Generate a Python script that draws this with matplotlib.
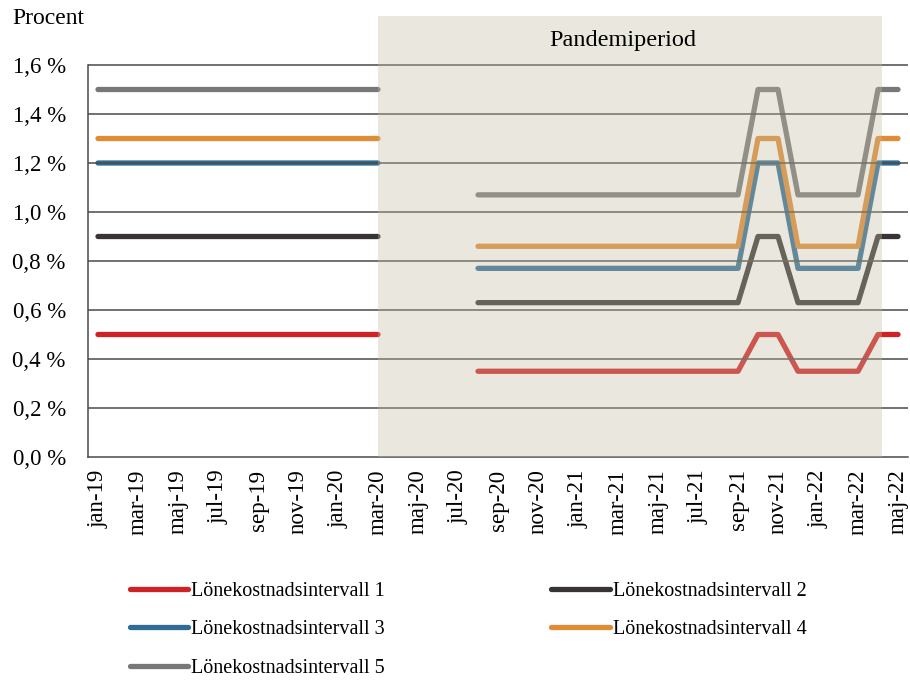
import numpy as np
import matplotlib
matplotlib.use("Agg")
from matplotlib import pyplot as plt

plt.rcParams['font.family'] = ['Liberation Serif', 'DejaVu Serif']

# months jan-19 .. maj-22
months = ['jan-19', 'feb-19', 'mar-19', 'apr-19', 'maj-19', 'jun-19', 'jul-19', 'aug-19',
          'sep-19', 'okt-19', 'nov-19', 'dec-19', 'jan-20', 'feb-20', 'mar-20', 'apr-20',
          'maj-20', 'jun-20', 'jul-20', 'aug-20', 'sep-20', 'okt-20', 'nov-20', 'dec-20',
          'jan-21', 'feb-21', 'mar-21', 'apr-21', 'maj-21', 'jun-21', 'jul-21', 'aug-21',
          'sep-21', 'okt-21', 'nov-21', 'dec-21', 'jan-22', 'feb-22', 'mar-22', 'apr-22',
          'maj-22']
n = np.nan

intervall1 = [0.5, 0.5, 0.5, 0.5, 0.5, 0.5, 0.5, 0.5, 0.5, 0.5, 0.5, 0.5, 0.5, 0.5, 0.5,
              n, n, n, n,
              0.35, 0.35, 0.35, 0.35, 0.35, 0.35, 0.35, 0.35, 0.35, 0.35, 0.35, 0.35, 0.35,
              0.35, 0.5, 0.5, 0.35, 0.35, 0.35, 0.35, 0.5, 0.5]
intervall2 = [0.9, 0.9, 0.9, 0.9, 0.9, 0.9, 0.9, 0.9, 0.9, 0.9, 0.9, 0.9, 0.9, 0.9, 0.9,
              n, n, n, n,
              0.63, 0.63, 0.63, 0.63, 0.63, 0.63, 0.63, 0.63, 0.63, 0.63, 0.63, 0.63, 0.63,
              0.63, 0.9, 0.9, 0.63, 0.63, 0.63, 0.63, 0.9, 0.9]
intervall3 = [1.2, 1.2, 1.2, 1.2, 1.2, 1.2, 1.2, 1.2, 1.2, 1.2, 1.2, 1.2, 1.2, 1.2, 1.2,
              n, n, n, n,
              0.77, 0.77, 0.77, 0.77, 0.77, 0.77, 0.77, 0.77, 0.77, 0.77, 0.77, 0.77, 0.77,
              0.77, 1.2, 1.2, 0.77, 0.77, 0.77, 0.77, 1.2, 1.2]
intervall4 = [1.3, 1.3, 1.3, 1.3, 1.3, 1.3, 1.3, 1.3, 1.3, 1.3, 1.3, 1.3, 1.3, 1.3, 1.3,
              n, n, n, n,
              0.86, 0.86, 0.86, 0.86, 0.86, 0.86, 0.86, 0.86, 0.86, 0.86, 0.86, 0.86, 0.86,
              0.86, 1.3, 1.3, 0.86, 0.86, 0.86, 0.86, 1.3, 1.3]
intervall5 = [1.5, 1.5, 1.5, 1.5, 1.5, 1.5, 1.5, 1.5, 1.5, 1.5, 1.5, 1.5, 1.5, 1.5, 1.5,
              n, n, n, n,
              1.07, 1.07, 1.07, 1.07, 1.07, 1.07, 1.07, 1.07, 1.07, 1.07, 1.07, 1.07, 1.07,
              1.07, 1.5, 1.5, 1.07, 1.07, 1.07, 1.07, 1.5, 1.5]

series = [intervall1, intervall2, intervall3, intervall4, intervall5]
labels = ['Lönekostnadsintervall 1', 'Lönekostnadsintervall 2', 'Lönekostnadsintervall 3',
          'Lönekostnadsintervall 4', 'Lönekostnadsintervall 5']
colors = ['#d02124', '#383335', '#2f6d96', '#e08b35', '#787878']

pandemic_start, pandemic_end = 'mar-20', 'apr-22'
yticks = [0.0, 0.2, 0.4, 0.6, 0.8, 1.0, 1.2, 1.4, 1.6]

fig = plt.figure(figsize=(9.1, 6.8), dpi=100)
ax = fig.add_axes([88 / 910, 1 - 457 / 680, 820 / 910, 441 / 680])

x = np.arange(len(months))
lines = []
for vals, lab, col in zip(series, labels, colors):
    ln, = ax.plot(x, vals, color=col, lw=3.8, label=lab, solid_capstyle='round',
                  solid_joinstyle='round', zorder=2)
    lines.append(ln)

# gridlines drawn over the lines
for yv in yticks[1:]:
    ax.axhline(yv, color='#4a4a4a', lw=1.1, zorder=2.6)

# pandemic shading, drawn on top (blends lines and grid)
i0 = months.index(pandemic_start)
i1 = months.index(pandemic_end)
ax.axvspan(i0, i1 + 0.2, color='#c3bda1', alpha=0.35, lw=0, zorder=3)
ax.text(26.25, 1.7, 'Pandemiperiod', ha='center', va='center', fontsize=17.5)

ax.set_xlim(-0.5, len(months) - 0.5)
ax.set_ylim(0, 1.8)
ax.set_yticks(yticks)
ax.set_yticklabels([f'{v:.1f} %'.replace('.', ',') for v in yticks], fontsize=16.5)
ax.set_xticks(x[::2])
ax.set_xticklabels(months[::2], rotation=90, fontsize=16.5)
ax.tick_params(length=0, pad=9)
ax.tick_params(axis='y', pad=16)

for s in ['top', 'right']:
    ax.spines[s].set_visible(False)
ax.spines['left'].set_bounds(0, 1.6)
ax.spines['left'].set_color('#4a4a4a')
ax.spines['bottom'].set_color('#4a4a4a')
ax.spines['left'].set_linewidth(1.1)
ax.spines['bottom'].set_linewidth(1.1)

fig.text(12 / 910, 1 - 18 / 680, 'Procent', ha='left', va='center', fontsize=17)

# row-wise legend order: 1 2 / 3 4 / 5
order = [0, 2, 4, 1, 3]
fig.legend([lines[i] for i in order], [labels[i] for i in order],
           loc='upper left', bbox_to_anchor=(130 / 910, 1 - 582 / 680), ncol=2,
           frameon=False, fontsize=14.5, handlelength=2.9, handletextpad=0.15,
           columnspacing=8.25, labelspacing=0.95, borderpad=0, borderaxespad=0)

fig.savefig('out.png', dpi=100)
